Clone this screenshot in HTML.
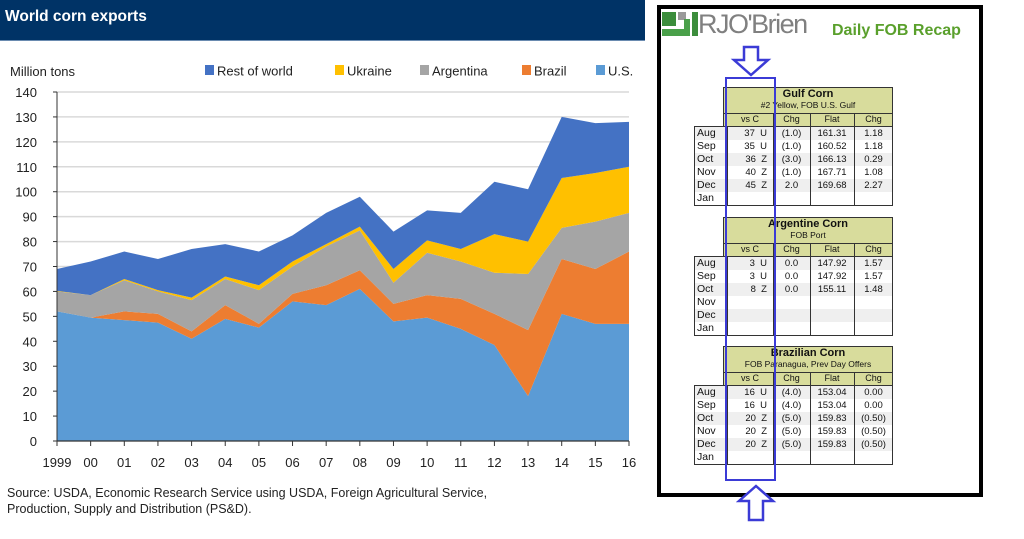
<!DOCTYPE html>
<html><head><meta charset="utf-8">
<style>
body{margin:0;width:1024px;height:539px;background:#fff;position:relative;overflow:hidden;font-family:"Liberation Sans",Arial,sans-serif}
.abs{position:absolute}
.tb{position:absolute;font-size:9.5px;color:#111}
.cell{position:absolute;text-align:center;white-space:nowrap;line-height:13px;height:13px}
</style></head><body>
<div class="abs" style="left:0;top:0;width:645px;height:40px;background:#003366;border-bottom:1px solid #6a8bb0"></div>
<div class="abs" style="left:5px;top:8px;color:#fff;font-weight:bold;font-size:15.5px">World corn exports</div>
<svg class="abs" style="left:0;top:40px" width="655" height="499">
<g id="plot" transform="translate(0,-40)"></g>
</svg>
<div class="abs" style="left:7px;top:486px;font-size:12.5px;line-height:15.5px;color:#222">Source: USDA, Economic Research Service using USDA, Foreign Agricultural Service,<br>Production, Supply and Distribution (PS&amp;D).</div>

<div class="abs" style="left:657px;top:5px;width:318px;height:484px;border:4px solid #000;background:#fff"></div>
<svg class="abs" style="left:660px;top:9px" width="40" height="30">
<rect x="2" y="3" width="14" height="14" fill="#3c8d3c"/><rect x="18" y="3" width="8" height="8" fill="#9a9a9a"/><polygon points="2,27 30,27 30,10 24,10 24,20 2,20" fill="#4aa04a"/><rect x="32" y="3" width="6" height="24" fill="#3c8d3c"/>
</svg>
<div class="abs" style="left:698px;top:9px;font-size:27px;color:#808080;letter-spacing:-1.5px">RJO'Brien</div>
<div class="abs" style="left:832px;top:22px;font-size:16px;font-weight:bold;color:#5aa02c">Daily FOB Recap</div>
<div id="tables"></div>
<div class="abs" style="left:725px;top:77px;width:47px;height:400px;border:2.5px solid #3b3bd6"></div>
<svg class="abs" style="left:730px;top:44px" width="44" height="34"><polygon points="14,3 28,3 28,16 38,16 21,31 4,16 14,16" fill="#fff" stroke="#3b3bd6" stroke-width="2.5"/></svg>
<svg class="abs" style="left:736px;top:484px" width="44" height="40"><polygon points="20,2 37,17 27,17 27,36 13,36 13,17 3,17" fill="#fff" stroke="#3b3bd6" stroke-width="2.5"/></svg>

<script>
const years=["1999","00","01","02","03","04","05","06","07","08","09","10","11","12","13","14","15","16"];
const us=[52,49.5,48.5,47.5,41,49,45.5,56,54.5,61,48,49.5,45,38.5,18,51,47,47];
const brazil=[0,0,3.5,3.5,3,5.5,1.5,3,8,7.5,7,9,12,12.5,26.5,22,22,29];
const argentina=[8,9,12.5,9,12.5,10.5,13.5,11,15.5,16,8.5,17,15,16.5,22.5,12.5,19,15.5];
const ukraine=[0.2,0,0.5,0.5,1,1,2,2,1,1.5,5.5,5,5,15.5,13,20,19.5,18.5];
const rest=[8.8,13.5,11,12.5,19.5,13,13.5,10.5,12.5,12,15,12,14.5,21,21,24.5,20,18];
const yTicks=[0,10,20,30,40,50,60,70,80,90,100,110,120,130,140];
const seriesNames=["U.S.","Brazil","Argentina","Ukraine","Rest of world"];
const seriesColors=["#5b9bd5","#ed7d31","#a5a5a5","#ffc000","#4472c4"];
const NS="http://www.w3.org/2000/svg";
const g=document.getElementById('plot');
const X0=57,X1=629,Y0=441,Y1=92;
function xs(i){return X0+(X1-X0)*i/(years.length-1);}
function ys(v){return Y0-(Y0-Y1)*v/140;}
function mk(t,a){const e=document.createElementNS(NS,t);for(const k in a)e.setAttribute(k,a[k]);g.appendChild(e);return e;}
yTicks.forEach(t=>{
  if(t>0){const l=mk('line',{x1:X0,x2:X1,y1:ys(t),y2:ys(t),stroke:'#d9d9d9','stroke-width':1.5});
  
  }
  const tx=mk('text',{x:37,y:ys(t)+5,'text-anchor':'end','font-size':13,fill:'#222'});tx.textContent=t;
  
  
});
const all=[us,brazil,argentina,ukraine,rest];
let base=years.map(()=>0);
all.forEach((s,k)=>{
  const top=base.map((b,i)=>b+s[i]);
  let d='M'+years.map((y,i)=>xs(i)+','+ys(top[i])).join(' L');
  for(let i=years.length-1;i>=0;i--)d+=' L'+xs(i)+','+ys(base[i]);
  const p=mk('path',{d:d+'Z',fill:seriesColors[k]});
  
  
  base=top;
});
const ax=mk('line',{x1:X0,x2:X0,y1:Y1,y2:Y0,stroke:'#333','stroke-width':1});


const bx=mk('line',{x1:X0,x2:X1,y1:Y0,y2:Y0,stroke:'#333','stroke-width':1.2});


yTicks.forEach(t=>{mk('line',{x1:X0-4,x2:X0,y1:ys(t),y2:ys(t),stroke:'#333'});});
years.forEach((y,i)=>{
  mk('line',{x1:xs(i),x2:xs(i),y1:Y0,y2:Y0+5,stroke:'#333'});
  const tx=mk('text',{x:xs(i),y:467,'text-anchor':'middle','font-size':13,fill:'#222'});tx.textContent=y;
  
  
});
const yt=mk('text',{x:10,y:76,'font-size':13,fill:'#222'});yt.textContent='Million tons';


const legX=[205,335,420,522,596];
[4,3,2,1,0].forEach((k,j)=>{
  const r=mk('rect',{x:legX[j],y:65,width:9,height:10,fill:seriesColors[k]});
  
  
  const t=mk('text',{x:legX[j]+12,y:75.5,'font-size':13,fill:'#222'});t.textContent=seriesNames[k];
  
  
});

const T=document.getElementById('tables');
const cols=[[694,33],[727,46],[773,37],[810,44],[854,39]];
const months=["Aug","Sep","Oct","Nov","Dec","Jan"];
const tdata=[
 {top:87,title:"Gulf Corn",sub:"#2 Yellow, FOB U.S. Gulf",rows:[["37  U","(1.0)","161.31","1.18"],["35  U","(1.0)","160.52","1.18"],["36  Z","(3.0)","166.13","0.29"],["40  Z","(1.0)","167.71","1.08"],["45  Z","2.0","169.68","2.27"],["","","",""]]},
 {top:217,title:"Argentine Corn",sub:"FOB Port",rows:[["3  U","0.0","147.92","1.57"],["3  U","0.0","147.92","1.57"],["8  Z","0.0","155.11","1.48"],["","","",""],["","","",""],["","","",""]]},
 {top:346,title:"Brazilian Corn",sub:"FOB Paranagua, Prev Day Offers",rows:[["16  U","(4.0)","153.04","0.00"],["16  U","(4.0)","153.04","0.00"],["20  Z","(5.0)","159.83","(0.50)"],["20  Z","(5.0)","159.83","(0.50)"],["20  Z","(5.0)","159.83","(0.50)"],["","","",""]]}
];
function div(parent,css,txt){const d=document.createElement('div');d.className='cell';d.style.cssText=css;if(txt!==undefined)d.textContent=txt;parent.appendChild(d);return d;}
tdata.forEach((tb,n)=>{
  const w=document.createElement('div');w.className='tb';w.style.cssText='left:0;top:0';
  
  
  T.appendChild(w);
  const hy=tb.top, cy=hy+26, ry=cy+13;
  div(w,`left:723px;top:${hy}px;width:168px;height:38px;background:#d8dc9c;border:1px solid #333`);
  const t1=div(w,`left:723px;top:${hy+1}px;width:170px;font-weight:bold;font-size:11px`,tb.title);
  
  
  div(w,`left:723px;top:${hy+12}px;width:170px;font-size:8.5px`,tb.sub);
  div(w,`left:723px;top:${cy}px;width:170px;height:0;border-top:1px solid #333`);
  ["vs C","Chg","Flat","Chg"].forEach((c,j)=>{div(w,`left:${cols[j+1][0]}px;top:${cy}px;width:${cols[j+1][1]}px;font-size:9px;${j<3?'border-right:1px solid #333;':''}`,c);});
  div(w,`left:694px;top:${ry}px;width:197px;height:${13*6}px;border:1px solid #333;line-height:normal`);
  months.forEach((m,i)=>{
    const y=ry+1+i*13;
    if(i%2==0)div(w,`left:695px;top:${y}px;width:197px;background:#efefef`);
    div(w,`left:697px;top:${y}px;width:30px;text-align:left;font-size:10.5px`,m);
    tb.rows[i].forEach((v,j)=>{div(w,`left:${cols[j+1][0]}px;top:${y}px;width:${cols[j+1][1]-(j==0?6:0)}px;font-size:9.5px;white-space:pre;${j==0?'text-align:right;':''}`,v);});
  });
  cols.slice(0,4).forEach(c=>{div(w,`left:${c[0]+c[1]}px;top:${ry}px;width:0;height:${13*6+1}px;border-left:1px solid #333`);});
  div(w,`left:${cols[3][0]}px;top:${cy}px;width:0;height:13px;border-left:1px solid #333`);
  div(w,`left:${cols[4][0]}px;top:${cy}px;width:0;height:13px;border-left:1px solid #333`);
  div(w,`left:${cols[2][0]}px;top:${cy}px;width:0;height:13px;border-left:1px solid #333`);
});
</script>
</body></html>
